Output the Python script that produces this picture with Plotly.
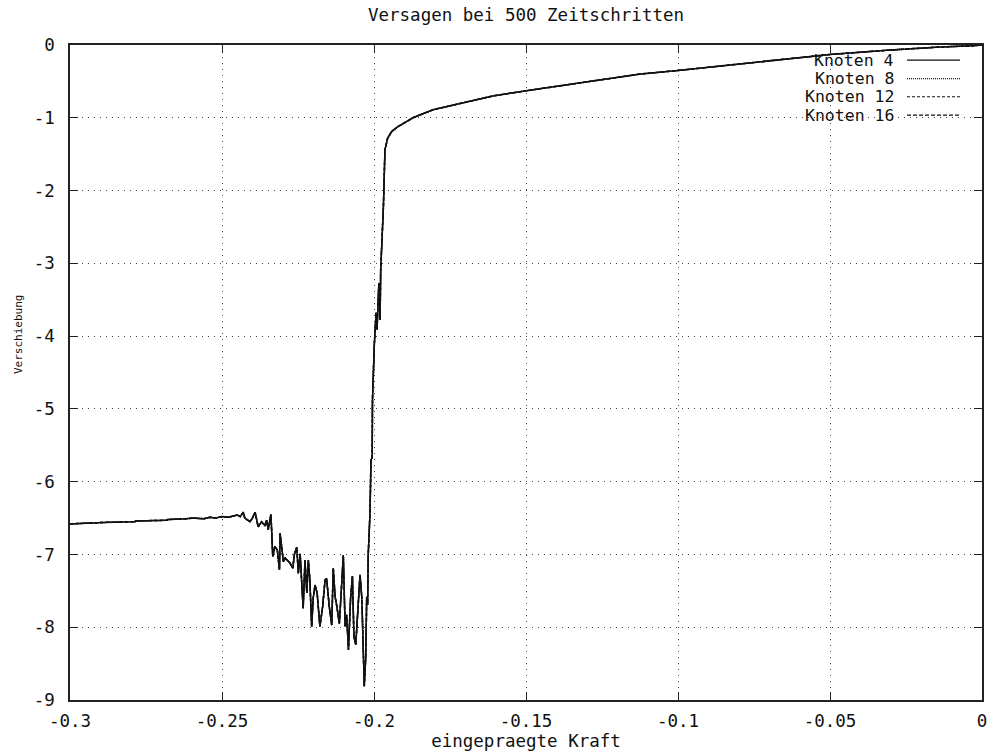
import plotly.graph_objects as go

# ---- data ----
kraft = [
    -0.3000, -0.2890, -0.2889, -0.2786, -0.2785, -0.2680, -0.2678, -0.2620, -0.2595,
    -0.2560, -0.2540, -0.2520, -0.2500, -0.2480, -0.2463,
    -0.2450, -0.2440, -0.2430, -0.2425, -0.2419, -0.2408, -0.2400, -0.2391, -0.2381,
    -0.2370, -0.2359, -0.2353, -0.2348, -0.2339, -0.2333, -0.2326, -0.2318, -0.2311,
    -0.2309, -0.2304, -0.2298, -0.2292, -0.2285, -0.2276, -0.2267, -0.2262, -0.2254,
    -0.2249, -0.2243, -0.2238, -0.2233, -0.2227, -0.2221, -0.2216, -0.2211, -0.2205,
    -0.2200, -0.2194, -0.2187, -0.2178, -0.2169, -0.2161, -0.2156, -0.2147, -0.2139,
    -0.2134, -0.2128, -0.2122, -0.2114, -0.2108, -0.2101, -0.2095, -0.2090, -0.2084,
    -0.2077, -0.2071, -0.2066, -0.2060, -0.2052, -0.2046, -0.2040, -0.2035, -0.2032,
    -0.2027, -0.2024, -0.2021, -0.2019, -0.2013, -0.2010, -0.2006, -0.2005, -0.1999,
    -0.1993, -0.1990, -0.1987, -0.1984, -0.1980, -0.1978, -0.1969, -0.1964, -0.1955,
    -0.1942, -0.1921, -0.1898, -0.1872, -0.1806, -0.1717, -0.1609, -0.1500, -0.1388,
    -0.1280, -0.1125, -0.1000, -0.0796, -0.0622, -0.0500, -0.0303, -0.0150, -0.0030,
    0.0000,
]
knoten4 = [
    -6.58, -6.57, -6.56, -6.55, -6.54, -6.53, -6.52, -6.51, -6.50,
    -6.51, -6.49, -6.50, -6.48, -6.49, -6.47,
    -6.46, -6.48, -6.42, -6.50, -6.52, -6.55, -6.50, -6.42, -6.62,
    -6.55, -6.60, -6.53, -6.66, -6.45, -7.03, -6.89, -6.94, -7.21,
    -6.71, -6.92, -7.10, -7.05, -7.08, -7.12, -7.19, -7.00, -6.90,
    -7.26, -6.99, -7.30, -7.74, -7.08, -7.53, -7.08, -7.35, -7.99,
    -7.60, -7.42, -7.53, -7.99, -7.72, -7.35, -7.33, -7.72, -7.97,
    -7.19, -7.58, -7.72, -7.95, -7.53, -7.01, -7.99, -7.83, -8.31,
    -7.60, -7.30, -8.13, -8.24, -7.58, -7.28, -7.60, -8.36, -8.81,
    -8.40, -7.58, -7.69, -7.01, -6.41, -5.70, -5.67, -4.88, -4.12,
    -3.68, -3.91, -3.50, -3.27, -3.78, -3.09, -2.22, -1.44, -1.28,
    -1.19, -1.12, -1.06, -1.00, -0.89, -0.80, -0.70, -0.63, -0.56,
    -0.49, -0.40, -0.35, -0.26, -0.18, -0.13, -0.07, -0.03, -0.01,
    0.00,
]
# the other nodes are not distinguishable in the picture: they lie on the same curve
knoten8 = knoten4
knoten12 = knoten4
knoten16 = knoten4

series_names = ["Knoten 4", "Knoten 8", "Knoten 12", "Knoten 16"]
series_values = [knoten4, knoten8, knoten12, knoten16]
series_dash = ["solid", "1px,1px", "3px,2px", "4px,2px"]

x_tickvals = [-0.3, -0.25, -0.2, -0.15, -0.1, -0.05, 0]
x_ticktext = ["-0.3", "-0.25", "-0.2", "-0.15", "-0.1", "-0.05", "0"]
y_tickvals = [0, -1, -2, -3, -4, -5, -6, -7, -8, -9]
y_ticktext = ["0", "-1", "-2", "-3", "-4", "-5", "-6", "-7", "-8", "-9"]

title_text = "Versagen bei 500 Zeitschritten"
x_title = "eingepraegte Kraft"
y_title = "Verschiebung"

FONT = "DejaVu Sans Mono"
FS = 17.5
INK = "#111111"

fig = go.Figure()
for name, vals, dash in zip(series_names, series_values, series_dash):
    fig.add_trace(go.Scatter(
        x=kraft, y=vals, mode="lines", name=name,
        line=dict(color=INK, width=1.5, dash=dash),
        showlegend=False,
    ))

# gnuplot-style key: right-aligned text followed by line sample
row_y = [0.977, 0.9486, 0.921, 0.893]
for name, dash, yy in zip(series_names, series_dash, row_y):
    fig.add_annotation(
        x=0.9046, y=yy, xref="paper", yref="paper", text=name,
        showarrow=False, xanchor="right", yanchor="middle", borderpad=0,
        font=dict(family=FONT, size=16.5, color=INK),
    )
    fig.add_shape(
        type="line", xref="paper", yref="paper",
        x0=0.9178, x1=0.9759, y0=yy, y1=yy,
        line=dict(color=INK, width=1.2, dash=dash),
    )

# y axis title (gnuplot's rotated label, small font)
fig.add_annotation(
    xref="paper", yref="paper", x=(18 - 70) / 912, y=1 - (335 - 45) / 655,
    xanchor="center", yanchor="middle", text=y_title,
    showarrow=False, textangle=-90,
    font=dict(family=FONT, size=11, color=INK),
)

axis_common = dict(
    showline=True, linecolor="#222222", linewidth=1.5, mirror="ticks",
    ticks="inside", ticklen=8, tickwidth=1.2, tickcolor="#222222",
    showgrid=True, gridcolor="#444444", gridwidth=1, griddash="1px,5px",
    zeroline=False,
    tickfont=dict(family=FONT, size=FS, color=INK),
)

fig.update_xaxes(
    range=[-0.3, 0], tickmode="array", tickvals=x_tickvals, ticktext=x_ticktext,
    title=dict(text=x_title, font=dict(family=FONT, size=FS, color=INK), standoff=8),
    ticklabelstandoff=4,
    **axis_common,
)
fig.update_yaxes(
    range=[-9, 0], tickmode="array", tickvals=y_tickvals, ticktext=y_ticktext,
    ticklabelstandoff=10,
    **axis_common,
)

fig.update_layout(
    width=990, height=751,
    margin=dict(l=70, r=8, t=45, b=51, autoexpand=False),
    paper_bgcolor="white", plot_bgcolor="white",
    title=dict(text=title_text, x=0.5, xref="paper", y=1 - 15 / 751, yref="container",
               xanchor="center", yanchor="middle",
               font=dict(family=FONT, size=FS, color=INK)),
    showlegend=False,
)

fig.write_html(
    "out.html",
    config={"displayModeBar": False},
    post_script="document.body.style.margin='0';document.body.style.overflow='hidden';",
)
